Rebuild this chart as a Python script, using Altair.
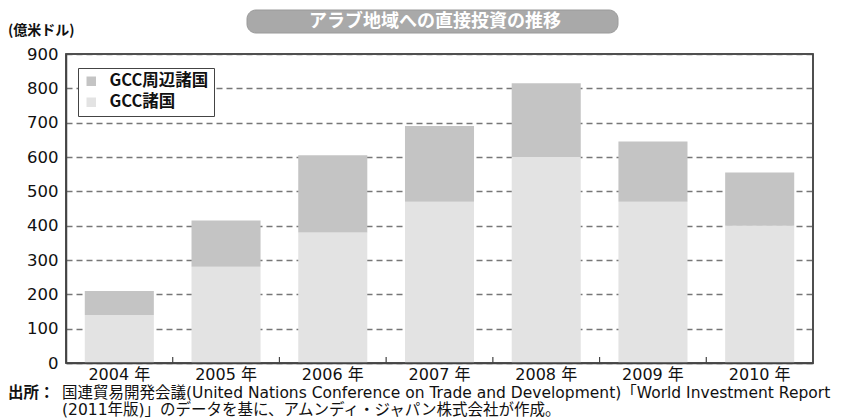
import altair as alt
import pandas as pd

# ---- data ----
years = ["2004 年", "2005 年", "2006 年", "2007 年", "2008 年", "2009 年", "2010 年"]
gcc = [140, 280, 380, 470, 600, 470, 400]          # GCC諸国
periphery = [70, 135, 225, 220, 215, 175, 155]     # GCC周辺諸国
series_names = ["GCC周辺諸国", "GCC諸国"]
series_colors = ["#c4c4c4", "#e3e3e3"]
y_ticks = [0, 100, 200, 300, 400, 500, 600, 700, 800, 900]
band_edges = [1, 2, 3, 4, 5, 6]

title_text = "アラブ地域への直接投資の推移"
unit_text = "(億米ドル)"
src_head = "出所："
src_line1 = "国連貿易開発会議(United Nations Conference on Trade and Development)「World Investment Report"
src_line2 = "(2011年版)」のデータを基に、アムンディ・ジャパン株式会社が作成。"

rows = []
for y, a, b in zip(years, gcc, periphery):
    rows.append({"year": y, "series": "GCC諸国", "value": a, "ord": 0})
    rows.append({"year": y, "series": "GCC周辺諸国", "value": b, "ord": 1})
df = pd.DataFrame(rows)

JP = "Noto Sans CJK JP"
MIX = "'DejaVu Sans', 'Noto Sans CJK JP'"
W, H = 747, 309

bars = alt.Chart(df).mark_bar().encode(
    x=alt.X("year:N", sort=years,
            scale=alt.Scale(paddingInner=0.353, paddingOuter=0.176),
            axis=alt.Axis(title=None, labelAngle=0, ticks=False, grid=False,
                          domainColor="#444", domainWidth=1.5,
                          labelFont=MIX, labelFontSize=16, labelColor="#111",
                          labelPadding=3)),
    y=alt.Y("value:Q", stack="zero",
            scale=alt.Scale(domain=[0, 900], nice=False),
            axis=alt.Axis(title=None, values=y_ticks, ticks=False, grid=True,
                          labelOverlap=False,
                          gridDash=[6, 4], gridColor="#777", gridWidth=1.5,
                          domainColor="#444", domainWidth=1.5,
                          labelFont="DejaVu Sans", labelFontSize=16.5,
                          labelColor="#111", labelPadding=8)),
    color=alt.Color("series:N",
                    scale=alt.Scale(domain=series_names, range=series_colors),
                    legend=alt.Legend(orient="none", legendX=12, legendY=14,
                                      title=None, strokeColor="#444",
                                      fillColor="white", padding=5,
                                      symbolType="square", symbolSize=90,
                                      symbolStrokeWidth=0, symbolOpacity=1,
                                      labelFont=JP, labelFontSize=16.5,
                                      labelFontWeight="bold", labelColor="#111",
                                      labelOffset=10, rowPadding=4)),
    order=alt.Order("ord:Q"),
)

ticks = alt.Chart(pd.DataFrame({"b": band_edges})).mark_rule(
    color="#444", strokeWidth=1.2
).encode(
    x=alt.X("b:Q", scale=alt.Scale(domain=[0, 7]), axis=None),
    y=alt.value(H),
    y2=alt.value(H - 6),
)

one = pd.DataFrame({"t": [title_text]})
frame = alt.Chart(one).mark_rect(
    filled=False, stroke="#444", strokeWidth=1.5
).encode(x=alt.value(0), x2=alt.value(W), y=alt.value(0), y2=alt.value(H))

pill = alt.Chart(one).mark_rect(
    color="#a9a9a9", cornerRadius=9, stroke="#9a9a9a", strokeWidth=1
).encode(x=alt.value(181), x2=alt.value(552), y=alt.value(-44), y2=alt.value(-21))
pill_text = alt.Chart(one).mark_text(
    font=JP, fontSize=18, fontWeight="bold", color="white", baseline="middle"
).encode(x=alt.value(369), y=alt.value(-32), text="t:N")

unit = alt.Chart(pd.DataFrame({"t": [unit_text]})).mark_text(
    font=JP, fontSize=14, fontWeight="bold", color="#111", align="left", baseline="middle"
).encode(x=alt.value(-58), y=alt.value(-23), text="t:N")

s_head = alt.Chart(pd.DataFrame({"t": [src_head]})).mark_text(
    font=JP, fontSize=15.5, fontWeight="bold", color="#111", align="left", baseline="middle"
).encode(x=alt.value(-58), y=alt.value(339), text="t:N")
s1 = alt.Chart(pd.DataFrame({"t": [src_line1]})).mark_text(
    font=MIX, fontSize=15.5, color="#111", align="left", baseline="middle"
).encode(x=alt.value(-4), y=alt.value(339), text="t:N")
s2 = alt.Chart(pd.DataFrame({"t": [src_line2]})).mark_text(
    font=MIX, fontSize=15.5, color="#111", align="left", baseline="middle"
).encode(x=alt.value(-4), y=alt.value(356), text="t:N")

chart = alt.layer(bars, ticks, frame, pill, pill_text, unit, s_head, s1, s2).resolve_scale(
    x="independent"
).properties(
    width=W, height=H, autosize="none",
    padding={"left": 58, "top": 46, "right": 40, "bottom": 56},
    background="white",
).configure_view(stroke="#444", strokeWidth=1.5)

chart.save("out.html", embed_options={"renderer": "svg", "actions": False})
